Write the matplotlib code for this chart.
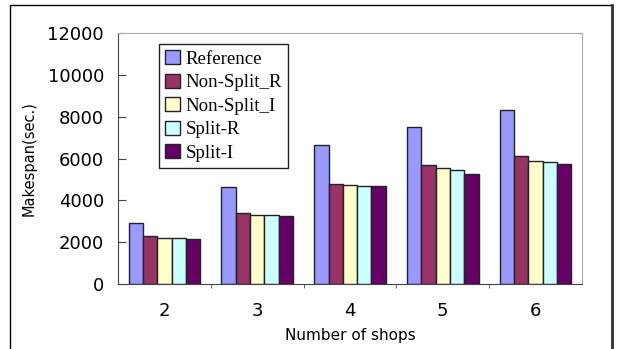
import matplotlib.pyplot as plt
import numpy as np
from matplotlib.patches import Rectangle
from matplotlib.lines import Line2D

shops = ['2', '3', '4', '5', '6']
reference = [2930, 4620, 6630, 7520, 8330]
non_split_r = [2280, 3390, 4780, 5690, 6100]
non_split_i = [2200, 3280, 4750, 5545, 5865]
split_r = [2200, 3280, 4700, 5435, 5815]
split_i = [2135, 3235, 4700, 5260, 5750]

series = [reference, non_split_r, non_split_i, split_r, split_i]
names = ['Reference', 'Non-Split_R', 'Non-Split_I', 'Split-R', 'Split-I']
colors = ['#9999FF', '#993366', '#FFFFCC', '#CCFFFF', '#660066']

fig = plt.figure(figsize=(6.2, 3.49), dpi=100)
ax = fig.add_axes([118/620, 1 - 284/349, 464/620, 251/349])

x = np.arange(len(shops))
w = 0.154
for i, (vals, name, c) in enumerate(zip(series, names, colors)):
    ax.bar(x + (i - 2) * w, vals, w, color=c, edgecolor='#222222',
           linewidth=1.0, label=name)

ax.set_xlim(-0.5, 4.5)
ax.set_ylim(0, 12000)
ax.set_yticks(range(0, 12001, 2000))
ax.set_xticks(x)
ax.set_xticklabels(shops)
ax.set_xticks(np.arange(0.5, 4.0, 1.0), minor=True)
ax.tick_params(axis='x', which='major', length=0, labelsize=13, pad=13)
ax.tick_params(axis='x', which='minor', length=3, direction='out', color='#444444')
ax.tick_params(axis='y', direction='in', length=6, labelsize=13, pad=10, color='#444444')
for s in ['top', 'right']:
    ax.spines[s].set_color('#aaaaaa')
for s in ['left', 'bottom']:
    ax.spines[s].set_color('#444444')

ax.set_ylabel('Makespan(sec.)', fontsize=10.5, labelpad=8)
ax.set_xlabel('Number of shops', fontsize=11, labelpad=6)

leg = ax.legend(loc='upper left', bbox_to_anchor=(0.088, 0.958), borderaxespad=0,
                prop={'family': 'Liberation Serif', 'size': 13.6},
                fancybox=False, framealpha=1, edgecolor='#222222',
                handlelength=0.75, handleheight=0.75, handletextpad=0.3,
                labelspacing=0.32, borderpad=0.35)
leg.get_frame().set_linewidth(1.0)

# outer frame of the figure
fig.patches.append(Rectangle((10/620, -0.01), 602/620, 1 - 5/349 + 0.01,
                             transform=fig.transFigure, fill=False,
                             edgecolor='black', linewidth=1.0))
fig.lines.append(Line2D([612/620, 612/620], [0, 1 - 5/349],
                        transform=fig.transFigure, color='#333333', linewidth=2))

fig.savefig('out.png', dpi=100)
